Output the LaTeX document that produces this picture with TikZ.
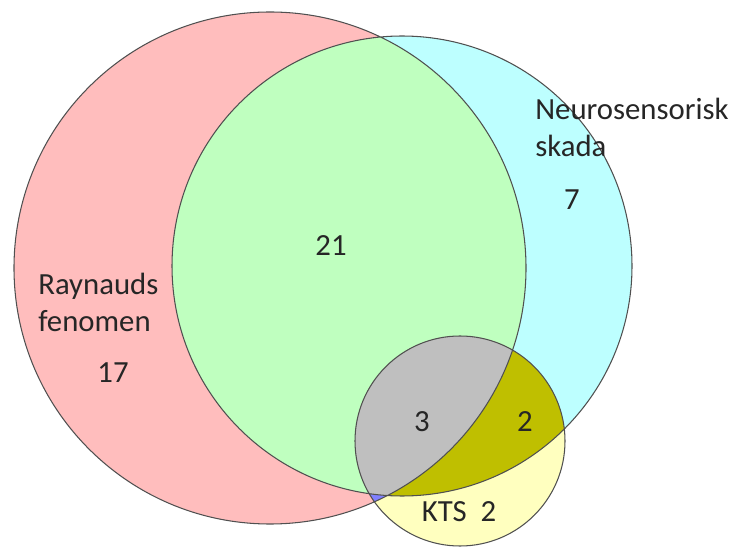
\documentclass[tikz,border=0pt]{standalone}
\usepackage{fontspec}
\setmainfont{Carlito}
\usepackage{xcolor}
\definecolor{raypink}{HTML}{FFBDBD}
\definecolor{neurocyan}{HTML}{BDFFFF}
\definecolor{bothgreen}{HTML}{BFFFBF}
\definecolor{ktsyellow}{HTML}{FFFFBF}
\definecolor{allgray}{HTML}{BFBFBF}
\definecolor{neuroolive}{HTML}{BFBF00}
\definecolor{rayblue}{HTML}{8080FF}
\definecolor{rimgray}{HTML}{505050}
\newcommand{\raycircle}{(5.40,5.58) circle (5.12)}
\newcommand{\neurocircle}{(8.04,5.62) circle (4.60)}
\newcommand{\ktscircle}{(9.20,2.12) circle (2.10)}

\begin{document}
\begin{tikzpicture}[lbl/.style={inner sep=0pt, text=black!85, font=\fontsize{17.5}{21.5}\selectfont}]
\useasboundingbox (0,0) rectangle (14.84,10.94);
\fill[raypink] \raycircle;
\fill[neurocyan] \neurocircle;
\begin{scope}
\clip \raycircle;
\fill[bothgreen] \neurocircle;
\end{scope}
\fill[ktsyellow] \ktscircle;
\begin{scope}
\clip \ktscircle;
\fill[rayblue] \raycircle;
\fill[neuroolive] \neurocircle;
\clip \raycircle;
\fill[allgray] \neurocircle;
\end{scope}
\draw[rimgray, line width=0.6pt] \raycircle \neurocircle \ktscircle;
% labels and counts
\node[lbl, anchor=base west, align=left] (neuro) at (10.70,7.80) {Neurosensorisk\\skada};
\node[lbl, anchor=base west, align=left] (ray) at (0.76,4.30) {Raynauds\\fenomen};
\node[lbl] (neuroonly) at (11.44,6.94) {7};
\node[lbl] (raybothneuro) at (6.62,6.02) {21};
\node[lbl] (rayonly) at (2.26,3.48) {17};
\node[lbl] (allthree) at (8.44,2.50) {3};
\node[lbl] (neurokts) at (10.50,2.50) {2};
\node[lbl] (kts) at (9.18,0.70) {KTS~~2};
\end{tikzpicture}
\end{document}
